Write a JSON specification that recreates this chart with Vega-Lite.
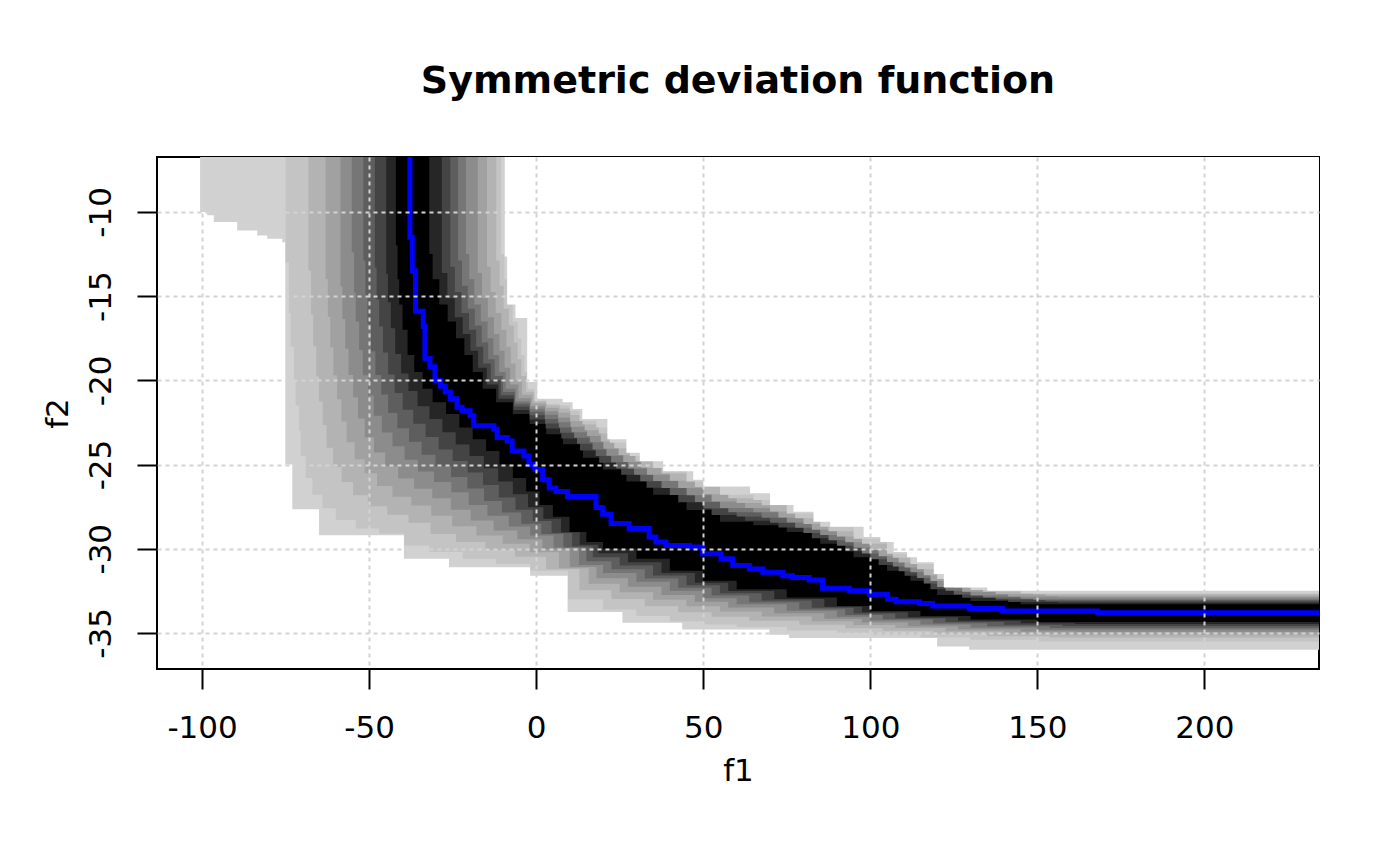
{
  "$schema": "https://vega.github.io/schema/vega-lite/v6.json",
  "width": 1162,
  "height": 512,
  "autosize": "none",
  "padding": {"left": 157, "top": 157, "right": 81, "bottom": 197},
  "background": "white",
  "title": {
    "text": "Symmetric deviation function",
    "font": "DejaVu Sans",
    "fontSize": 38,
    "fontWeight": "bold",
    "color": "black",
    "anchor": "middle",
    "frame": "group",
    "baseline": "alphabetic",
    "offset": 26
  },
  "config": {
    "view": {"stroke": "black", "strokeWidth": 2},
    "axis": {
      "zindex": 1,
      "domain": false,
      "tickSize": 20,
      "tickWidth": 2,
      "tickColor": "black",
      "grid": true,
      "gridColor": "#d3d3d3",
      "gridDash": [4, 4],
      "gridWidth": 2,
      "labelFont": "DejaVu Sans",
      "labelFontSize": 31,
      "labelColor": "black",
      "labelOverlap": false,
      "labelFlush": false,
      "titleFont": "DejaVu Sans",
      "titleFontSize": 31,
      "titleFontWeight": "normal",
      "titleColor": "black"
    }
  },
  "datasets": {
    "lower": [
      {"level": 1, "x": -100.6, "y": -10.0}, {"level": 1, "x": -98.5, "y": -10.2}, {"level": 1, "x": -96.5, "y": -10.6},
      {"level": 1, "x": -89.5, "y": -11.1}, {"level": 1, "x": -83.5, "y": -11.4}, {"level": 1, "x": -80.5, "y": -11.6},
      {"level": 1, "x": -76.0, "y": -11.8}, {"level": 1, "x": -75.1, "y": -25.0}, {"level": 1, "x": -73.0, "y": -27.65},
      {"level": 1, "x": -65.0, "y": -29.2}, {"level": 1, "x": -39.6, "y": -30.6}, {"level": 1, "x": -26.1, "y": -31.1},
      {"level": 1, "x": -1.8, "y": -31.6}, {"level": 1, "x": 9.4, "y": -33.75}, {"level": 1, "x": 25.8, "y": -34.4},
      {"level": 1, "x": 43.7, "y": -34.8}, {"level": 1, "x": 69.8, "y": -35.1}, {"level": 1, "x": 75.7, "y": -35.3},
      {"level": 1, "x": 120.0, "y": -35.8}, {"level": 1, "x": 129.6, "y": -36.0}, {"level": 1, "x": 234.3, "y": -36.0},

      {"level": 2, "x": -75.0, "y": -13.0}, {"level": 2, "x": -74.0, "y": -16.0}, {"level": 2, "x": -73.5, "y": -18.0},
      {"level": 2, "x": -72.5, "y": -20.0}, {"level": 2, "x": -72.0, "y": -21.5}, {"level": 2, "x": -71.0, "y": -23.0},
      {"level": 2, "x": -70.5, "y": -24.5}, {"level": 2, "x": -69.0, "y": -25.8}, {"level": 2, "x": -67.0, "y": -26.8},
      {"level": 2, "x": -64.0, "y": -27.6}, {"level": 2, "x": -60.0, "y": -28.3}, {"level": 2, "x": -54.0, "y": -28.8},
      {"level": 2, "x": -47.0, "y": -29.1}, {"level": 2, "x": -39.5, "y": -29.8}, {"level": 2, "x": -32.0, "y": -30.2},
      {"level": 2, "x": -22.0, "y": -30.6}, {"level": 2, "x": -12.0, "y": -30.9}, {"level": 2, "x": -1.8, "y": -31.3},
      {"level": 2, "x": 9.5, "y": -33.0}, {"level": 2, "x": 20.0, "y": -33.6}, {"level": 2, "x": 30.0, "y": -34.0},
      {"level": 2, "x": 40.0, "y": -34.3}, {"level": 2, "x": 50.0, "y": -34.5}, {"level": 2, "x": 60.0, "y": -34.65},
      {"level": 2, "x": 75.0, "y": -34.85}, {"level": 2, "x": 90.0, "y": -35.0}, {"level": 2, "x": 100.0, "y": -35.1},
      {"level": 2, "x": 115.0, "y": -35.25}, {"level": 2, "x": 130.0, "y": -35.4}, {"level": 2, "x": 150.0, "y": -35.5},
      {"level": 2, "x": 234.3, "y": -35.5},

      {"level": 3, "x": -68.18, "y": -13.5}, {"level": 3, "x": -67.38, "y": -16.08}, {"level": 3, "x": -66.75, "y": -17.98},
      {"level": 3, "x": -65.83, "y": -19.78}, {"level": 3, "x": -65.0, "y": -21.25}, {"level": 3, "x": -63.88, "y": -22.65},
      {"level": 3, "x": -62.75, "y": -24.0}, {"level": 3, "x": -60.8, "y": -25.14}, {"level": 3, "x": -58.2, "y": -26.04},
      {"level": 3, "x": -54.8, "y": -26.82}, {"level": 3, "x": -50.4, "y": -27.48}, {"level": 3, "x": -44.6, "y": -27.98},
      {"level": 3, "x": -38.2, "y": -28.46}, {"level": 3, "x": -31.6, "y": -29.12}, {"level": 3, "x": -24.0, "y": -29.6},
      {"level": 3, "x": -15.2, "y": -30.06}, {"level": 3, "x": -6.35, "y": -30.47}, {"level": 3, "x": 2.95, "y": -31.21},
      {"level": 3, "x": 12.95, "y": -32.46}, {"level": 3, "x": 22.5, "y": -32.99}, {"level": 3, "x": 32.5, "y": -33.42},
      {"level": 3, "x": 42.5, "y": -33.77}, {"level": 3, "x": 52.5, "y": -34.04}, {"level": 3, "x": 63.75, "y": -34.27},
      {"level": 3, "x": 78.75, "y": -34.52}, {"level": 3, "x": 92.5, "y": -34.72}, {"level": 3, "x": 103.75, "y": -34.87},
      {"level": 3, "x": 118.75, "y": -35.04}, {"level": 3, "x": 135.0, "y": -35.19}, {"level": 3, "x": 153.75, "y": -35.27},
      {"level": 3, "x": 234.3, "y": -35.27},

      {"level": 4, "x": -63.04, "y": -13.98}, {"level": 4, "x": -62.38, "y": -16.22}, {"level": 4, "x": -61.63, "y": -18.04},
      {"level": 4, "x": -60.71, "y": -19.7}, {"level": 4, "x": -59.61, "y": -21.12}, {"level": 4, "x": -58.33, "y": -22.44},
      {"level": 4, "x": -56.72, "y": -23.67}, {"level": 4, "x": -54.35, "y": -24.68}, {"level": 4, "x": -51.33, "y": -25.52},
      {"level": 4, "x": -47.65, "y": -26.27}, {"level": 4, "x": -43.0, "y": -26.91}, {"level": 4, "x": -37.38, "y": -27.43},
      {"level": 4, "x": -31.43, "y": -28.04}, {"level": 4, "x": -25.15, "y": -28.67}, {"level": 4, "x": -17.9, "y": -29.21},
      {"level": 4, "x": -10.0, "y": -29.7}, {"level": 4, "x": -1.93, "y": -30.21}, {"level": 4, "x": 6.82, "y": -31.16},
      {"level": 4, "x": 15.72, "y": -32.08}, {"level": 4, "x": 25.0, "y": -32.58}, {"level": 4, "x": 35.0, "y": -33.03},
      {"level": 4, "x": 45.0, "y": -33.42}, {"level": 4, "x": 55.0, "y": -33.73}, {"level": 4, "x": 67.5, "y": -34.02},
      {"level": 4, "x": 82.5, "y": -34.31}, {"level": 4, "x": 95.0, "y": -34.53}, {"level": 4, "x": 107.5, "y": -34.71},
      {"level": 4, "x": 122.5, "y": -34.9}, {"level": 4, "x": 140.0, "y": -35.04}, {"level": 4, "x": 157.5, "y": -35.1},
      {"level": 4, "x": 234.3, "y": -35.1},

      {"level": 5, "x": -58.59, "y": -14.41}, {"level": 5, "x": -58.03, "y": -16.36}, {"level": 5, "x": -57.15, "y": -18.12},
      {"level": 5, "x": -56.17, "y": -19.69}, {"level": 5, "x": -54.81, "y": -21.01}, {"level": 5, "x": -53.35, "y": -22.27},
      {"level": 5, "x": -51.32, "y": -23.38}, {"level": 5, "x": -48.54, "y": -24.29}, {"level": 5, "x": -45.19, "y": -25.1},
      {"level": 5, "x": -41.32, "y": -25.83}, {"level": 5, "x": -36.54, "y": -26.44}, {"level": 5, "x": -31.11, "y": -27.0},
      {"level": 5, "x": -25.55, "y": -27.69}, {"level": 5, "x": -19.6, "y": -28.32}, {"level": 5, "x": -12.74, "y": -28.91},
      {"level": 5, "x": -5.62, "y": -29.44}, {"level": 5, "x": 1.86, "y": -30.04}, {"level": 5, "x": 10.05, "y": -31.08},
      {"level": 5, "x": 18.04, "y": -31.75}, {"level": 5, "x": 27.5, "y": -32.25}, {"level": 5, "x": 37.5, "y": -32.74},
      {"level": 5, "x": 47.5, "y": -33.15}, {"level": 5, "x": 57.5, "y": -33.49}, {"level": 5, "x": 71.25, "y": -33.83},
      {"level": 5, "x": 86.25, "y": -34.15}, {"level": 5, "x": 97.5, "y": -34.38}, {"level": 5, "x": 111.25, "y": -34.6},
      {"level": 5, "x": 126.25, "y": -34.78}, {"level": 5, "x": 145.0, "y": -34.92}, {"level": 5, "x": 161.25, "y": -34.95},
      {"level": 5, "x": 234.3, "y": -34.95},

      {"level": 6, "x": -55.2, "y": -12.4}, {"level": 6, "x": -54.5, "y": -14.8}, {"level": 6, "x": -54.0, "y": -16.5},
      {"level": 6, "x": -53.0, "y": -18.2}, {"level": 6, "x": -51.9, "y": -19.7}, {"level": 6, "x": -50.3, "y": -20.9},
      {"level": 6, "x": -48.6, "y": -22.1}, {"level": 6, "x": -46.2, "y": -23.1}, {"level": 6, "x": -43.0, "y": -23.92},
      {"level": 6, "x": -39.4, "y": -24.72}, {"level": 6, "x": -35.4, "y": -25.42}, {"level": 6, "x": -30.6, "y": -26.04},
      {"level": 6, "x": -25.4, "y": -26.64}, {"level": 6, "x": -20.2, "y": -27.4}, {"level": 6, "x": -14.6, "y": -28.04},
      {"level": 6, "x": -8.2, "y": -28.68}, {"level": 6, "x": -1.8, "y": -29.22}, {"level": 6, "x": 5.2, "y": -29.92},
      {"level": 6, "x": 12.8, "y": -30.96}, {"level": 6, "x": 20.0, "y": -31.44}, {"level": 6, "x": 30.0, "y": -31.96},
      {"level": 6, "x": 40.0, "y": -32.5}, {"level": 6, "x": 50.0, "y": -32.94}, {"level": 6, "x": 60.0, "y": -33.3},
      {"level": 6, "x": 75.0, "y": -33.68}, {"level": 6, "x": 90.0, "y": -34.04}, {"level": 6, "x": 100.0, "y": -34.26},
      {"level": 6, "x": 115.0, "y": -34.5}, {"level": 6, "x": 130.0, "y": -34.68}, {"level": 6, "x": 150.0, "y": -34.81},
      {"level": 6, "x": 234.3, "y": -34.81},

      {"level": 7, "x": -51.74, "y": -12.88}, {"level": 7, "x": -51.13, "y": -15.01}, {"level": 7, "x": -50.5, "y": -16.66},
      {"level": 7, "x": -49.45, "y": -18.28}, {"level": 7, "x": -48.13, "y": -19.69}, {"level": 7, "x": -46.38, "y": -20.84},
      {"level": 7, "x": -44.31, "y": -21.94}, {"level": 7, "x": -41.55, "y": -22.85}, {"level": 7, "x": -38.08, "y": -23.64},
      {"level": 7, "x": -34.3, "y": -24.42}, {"level": 7, "x": -30.15, "y": -25.1}, {"level": 7, "x": -25.48, "y": -25.74},
      {"level": 7, "x": -20.58, "y": -26.42}, {"level": 7, "x": -15.6, "y": -27.17}, {"level": 7, "x": -10.25, "y": -27.85},
      {"level": 7, "x": -4.45, "y": -28.51}, {"level": 7, "x": 1.53, "y": -29.13}, {"level": 7, "x": 8.14, "y": -29.92},
      {"level": 7, "x": 15.01, "y": -30.74}, {"level": 7, "x": 22.5, "y": -31.22}, {"level": 7, "x": 32.5, "y": -31.77},
      {"level": 7, "x": 42.5, "y": -32.32}, {"level": 7, "x": 52.5, "y": -32.78}, {"level": 7, "x": 63.75, "y": -33.18},
      {"level": 7, "x": 78.75, "y": -33.59}, {"level": 7, "x": 92.5, "y": -33.94}, {"level": 7, "x": 103.75, "y": -34.19},
      {"level": 7, "x": 118.75, "y": -34.43}, {"level": 7, "x": 135.0, "y": -34.6}, {"level": 7, "x": 153.75, "y": -34.7},
      {"level": 7, "x": 234.3, "y": -34.7},

      {"level": 8, "x": -48.3, "y": -13.3}, {"level": 8, "x": -47.75, "y": -15.2}, {"level": 8, "x": -47.0, "y": -16.8},
      {"level": 8, "x": -45.85, "y": -18.35}, {"level": 8, "x": -44.3, "y": -19.65}, {"level": 8, "x": -42.35, "y": -20.75},
      {"level": 8, "x": -39.95, "y": -21.75}, {"level": 8, "x": -36.8, "y": -22.58}, {"level": 8, "x": -33.1, "y": -23.36},
      {"level": 8, "x": -29.2, "y": -24.11}, {"level": 8, "x": -25.0, "y": -24.79}, {"level": 8, "x": -20.5, "y": -25.47},
      {"level": 8, "x": -15.9, "y": -26.21}, {"level": 8, "x": -11.2, "y": -26.96}, {"level": 8, "x": -6.2, "y": -27.68},
      {"level": 8, "x": -1.0, "y": -28.35}, {"level": 8, "x": 4.6, "y": -29.06}, {"level": 8, "x": 10.75, "y": -29.87},
      {"level": 8, "x": 16.95, "y": -30.5}, {"level": 8, "x": 25.0, "y": -31.0}, {"level": 8, "x": 35.0, "y": -31.59},
      {"level": 8, "x": 45.0, "y": -32.16}, {"level": 8, "x": 55.0, "y": -32.64}, {"level": 8, "x": 67.5, "y": -33.07},
      {"level": 8, "x": 82.5, "y": -33.51}, {"level": 8, "x": 95.0, "y": -33.85}, {"level": 8, "x": 107.5, "y": -34.12},
      {"level": 8, "x": 122.5, "y": -34.35}, {"level": 8, "x": 140.0, "y": -34.51}, {"level": 8, "x": 157.5, "y": -34.58},
      {"level": 8, "x": 234.3, "y": -34.58},

      {"level": 9, "x": -44.89, "y": -13.68}, {"level": 9, "x": -44.38, "y": -15.36}, {"level": 9, "x": -43.5, "y": -16.91},
      {"level": 9, "x": -42.2, "y": -18.43}, {"level": 9, "x": -40.43, "y": -19.59}, {"level": 9, "x": -38.23, "y": -20.64},
      {"level": 9, "x": -35.51, "y": -21.54}, {"level": 9, "x": -31.95, "y": -22.3}, {"level": 9, "x": -28.08, "y": -23.08},
      {"level": 9, "x": -24.1, "y": -23.81}, {"level": 9, "x": -19.95, "y": -24.49}, {"level": 9, "x": -15.68, "y": -25.22},
      {"level": 9, "x": -11.38, "y": -26.0}, {"level": 9, "x": -7.0, "y": -26.77}, {"level": 9, "x": -2.45, "y": -27.53},
      {"level": 9, "x": 2.15, "y": -28.22}, {"level": 9, "x": 7.43, "y": -29.02}, {"level": 9, "x": 13.04, "y": -29.76},
      {"level": 9, "x": 18.61, "y": -30.26}, {"level": 9, "x": 27.5, "y": -30.8}, {"level": 9, "x": 37.5, "y": -31.44},
      {"level": 9, "x": 47.5, "y": -32.02}, {"level": 9, "x": 57.5, "y": -32.51}, {"level": 9, "x": 71.25, "y": -32.98},
      {"level": 9, "x": 86.25, "y": -33.45}, {"level": 9, "x": 97.5, "y": -33.77}, {"level": 9, "x": 111.25, "y": -34.06},
      {"level": 9, "x": 126.25, "y": -34.27}, {"level": 9, "x": 145.0, "y": -34.43}, {"level": 9, "x": 161.25, "y": -34.47},
      {"level": 9, "x": 234.3, "y": -34.47},

      {"level": 10, "x": -42.0, "y": -12.0}, {"level": 10, "x": -41.5, "y": -14.0}, {"level": 10, "x": -41.0, "y": -15.5},
      {"level": 10, "x": -40.0, "y": -17.0}, {"level": 10, "x": -38.5, "y": -18.5}, {"level": 10, "x": -36.5, "y": -19.5},
      {"level": 10, "x": -34.0, "y": -20.5}, {"level": 10, "x": -31.0, "y": -21.3}, {"level": 10, "x": -27.0, "y": -22.0},
      {"level": 10, "x": -23.0, "y": -22.8}, {"level": 10, "x": -19.0, "y": -23.5}, {"level": 10, "x": -15.0, "y": -24.2},
      {"level": 10, "x": -11.0, "y": -25.0}, {"level": 10, "x": -7.0, "y": -25.8}, {"level": 10, "x": -3.0, "y": -26.6},
      {"level": 10, "x": 1.0, "y": -27.4}, {"level": 10, "x": 5.0, "y": -28.1}, {"level": 10, "x": 10.0, "y": -29.0},
      {"level": 10, "x": 15.0, "y": -29.6}, {"level": 10, "x": 20.0, "y": -30.0}, {"level": 10, "x": 30.0, "y": -30.6},
      {"level": 10, "x": 40.0, "y": -31.3}, {"level": 10, "x": 50.0, "y": -31.9}, {"level": 10, "x": 60.0, "y": -32.4},
      {"level": 10, "x": 75.0, "y": -32.9}, {"level": 10, "x": 90.0, "y": -33.4}, {"level": 10, "x": 100.0, "y": -33.7},
      {"level": 10, "x": 115.0, "y": -34.0}, {"level": 10, "x": 130.0, "y": -34.2}, {"level": 10, "x": 150.0, "y": -34.35},
      {"level": 10, "x": 234.3, "y": -34.35}
    ],
    "upper": [
      {"level": 10, "x": -32.0, "y": -12.5}, {"level": 10, "x": -31.0, "y": -14.0}, {"level": 10, "x": -29.0, "y": -15.5},
      {"level": 10, "x": -26.5, "y": -16.5}, {"level": 10, "x": -24.0, "y": -17.5}, {"level": 10, "x": -21.5, "y": -18.5},
      {"level": 10, "x": -19.0, "y": -19.5}, {"level": 10, "x": -16.0, "y": -20.5}, {"level": 10, "x": -12.0, "y": -21.3},
      {"level": 10, "x": -7.0, "y": -22.0}, {"level": 10, "x": -2.0, "y": -22.6}, {"level": 10, "x": 3.0, "y": -23.2},
      {"level": 10, "x": 8.0, "y": -23.8}, {"level": 10, "x": 14.0, "y": -24.6}, {"level": 10, "x": 20.0, "y": -25.3},
      {"level": 10, "x": 27.0, "y": -26.0}, {"level": 10, "x": 35.0, "y": -26.8}, {"level": 10, "x": 45.0, "y": -27.7},
      {"level": 10, "x": 55.0, "y": -28.4}, {"level": 10, "x": 65.0, "y": -28.6}, {"level": 10, "x": 75.0, "y": -29.0},
      {"level": 10, "x": 85.0, "y": -29.7}, {"level": 10, "x": 95.0, "y": -30.5}, {"level": 10, "x": 105.0, "y": -31.3},
      {"level": 10, "x": 112.0, "y": -31.9}, {"level": 10, "x": 120.0, "y": -32.75}, {"level": 10, "x": 130.0, "y": -33.1},
      {"level": 10, "x": 145.0, "y": -33.3}, {"level": 10, "x": 234.3, "y": -33.3},

      {"level": 9, "x": -28.24, "y": -13.63}, {"level": 9, "x": -26.59, "y": -15.13}, {"level": 9, "x": -24.36, "y": -16.25},
      {"level": 9, "x": -22.0, "y": -17.25}, {"level": 9, "x": -19.69, "y": -18.25}, {"level": 9, "x": -17.4, "y": -19.25},
      {"level": 9, "x": -14.79, "y": -20.25}, {"level": 9, "x": -11.32, "y": -21.09}, {"level": 9, "x": -6.8, "y": -21.76},
      {"level": 9, "x": -1.96, "y": -22.32}, {"level": 9, "x": 2.8, "y": -22.86}, {"level": 9, "x": 7.52, "y": -23.45},
      {"level": 9, "x": 13.1, "y": -24.16}, {"level": 9, "x": 18.85, "y": -24.9}, {"level": 9, "x": 25.43, "y": -25.61},
      {"level": 9, "x": 33.04, "y": -26.38}, {"level": 9, "x": 42.5, "y": -27.24}, {"level": 9, "x": 52.5, "y": -28.0},
      {"level": 9, "x": 62.5, "y": -28.34}, {"level": 9, "x": 72.5, "y": -28.74}, {"level": 9, "x": 82.5, "y": -29.38},
      {"level": 9, "x": 92.5, "y": -30.15}, {"level": 9, "x": 102.5, "y": -30.96}, {"level": 9, "x": 110.25, "y": -31.61},
      {"level": 9, "x": 118.0, "y": -32.41}, {"level": 9, "x": 127.5, "y": -32.91}, {"level": 9, "x": 141.25, "y": -33.16},
      {"level": 9, "x": 156.25, "y": -33.21}, {"level": 9, "x": 234.3, "y": -33.21},

      {"level": 8, "x": -25.7, "y": -13.25}, {"level": 8, "x": -24.34, "y": -14.75}, {"level": 8, "x": -22.36, "y": -16.0},
      {"level": 8, "x": -20.12, "y": -17.0}, {"level": 8, "x": -17.96, "y": -18.0}, {"level": 8, "x": -15.87, "y": -19.0},
      {"level": 8, "x": -13.59, "y": -20.0}, {"level": 8, "x": -10.63, "y": -20.89}, {"level": 8, "x": -6.6, "y": -21.56},
      {"level": 8, "x": -1.94, "y": -22.07}, {"level": 8, "x": 2.66, "y": -22.56}, {"level": 8, "x": 7.12, "y": -23.12},
      {"level": 8, "x": 12.22, "y": -23.77}, {"level": 8, "x": 17.81, "y": -24.49}, {"level": 8, "x": 23.91, "y": -25.24},
      {"level": 8, "x": 31.14, "y": -25.99}, {"level": 8, "x": 40.0, "y": -26.81}, {"level": 8, "x": 50.0, "y": -27.61},
      {"level": 8, "x": 60.0, "y": -28.09}, {"level": 8, "x": 70.0, "y": -28.45}, {"level": 8, "x": 80.0, "y": -29.07},
      {"level": 8, "x": 90.0, "y": -29.82}, {"level": 8, "x": 100.0, "y": -30.62}, {"level": 8, "x": 108.5, "y": -31.33},
      {"level": 8, "x": 116.0, "y": -32.06}, {"level": 8, "x": 125.0, "y": -32.71}, {"level": 8, "x": 137.5, "y": -33.02},
      {"level": 8, "x": 152.5, "y": -33.12}, {"level": 8, "x": 234.3, "y": -33.12},

      {"level": 7, "x": -23.37, "y": -12.88}, {"level": 7, "x": -22.22, "y": -14.38}, {"level": 7, "x": -20.48, "y": -15.75},
      {"level": 7, "x": -18.37, "y": -16.75}, {"level": 7, "x": -16.31, "y": -17.75}, {"level": 7, "x": -14.39, "y": -18.75},
      {"level": 7, "x": -12.41, "y": -19.75}, {"level": 7, "x": -9.94, "y": -20.69}, {"level": 7, "x": -6.42, "y": -21.39},
      {"level": 7, "x": -1.95, "y": -21.87}, {"level": 7, "x": 2.57, "y": -22.29}, {"level": 7, "x": 6.79, "y": -22.8},
      {"level": 7, "x": 11.35, "y": -23.41}, {"level": 7, "x": 16.87, "y": -24.1}, {"level": 7, "x": 22.43, "y": -24.87},
      {"level": 7, "x": 29.29, "y": -25.61}, {"level": 7, "x": 37.5, "y": -26.4}, {"level": 7, "x": 47.5, "y": -27.23},
      {"level": 7, "x": 57.5, "y": -27.84}, {"level": 7, "x": 67.5, "y": -28.16}, {"level": 7, "x": 77.5, "y": -28.76},
      {"level": 7, "x": 87.5, "y": -29.5}, {"level": 7, "x": 97.5, "y": -30.28}, {"level": 7, "x": 106.75, "y": -31.06},
      {"level": 7, "x": 114.0, "y": -31.73}, {"level": 7, "x": 122.5, "y": -32.5}, {"level": 7, "x": 133.75, "y": -32.9},
      {"level": 7, "x": 148.75, "y": -33.05}, {"level": 7, "x": 234.3, "y": -33.05},

      {"level": 6, "x": -21.04, "y": -12.5}, {"level": 6, "x": -20.04, "y": -14.0}, {"level": 6, "x": -18.55, "y": -15.5},
      {"level": 6, "x": -16.56, "y": -16.5}, {"level": 6, "x": -14.57, "y": -17.5}, {"level": 6, "x": -12.83, "y": -18.5},
      {"level": 6, "x": -11.1, "y": -19.5}, {"level": 6, "x": -9.12, "y": -20.5}, {"level": 6, "x": -6.14, "y": -21.25},
      {"level": 6, "x": -1.9, "y": -21.69}, {"level": 6, "x": 2.59, "y": -22.04}, {"level": 6, "x": 6.57, "y": -22.49},
      {"level": 6, "x": 10.55, "y": -23.09}, {"level": 6, "x": 16.04, "y": -23.68}, {"level": 6, "x": 21.02, "y": -24.48},
      {"level": 6, "x": 27.51, "y": -25.24}, {"level": 6, "x": 35.0, "y": -25.98}, {"level": 6, "x": 45.0, "y": -26.83},
      {"level": 6, "x": 55.0, "y": -27.58}, {"level": 6, "x": 65.0, "y": -27.84}, {"level": 6, "x": 75.0, "y": -28.44},
      {"level": 6, "x": 85.0, "y": -29.19}, {"level": 6, "x": 95.0, "y": -29.94}, {"level": 6, "x": 105.0, "y": -30.79},
      {"level": 6, "x": 112.0, "y": -31.39}, {"level": 6, "x": 120.0, "y": -32.27}, {"level": 6, "x": 130.0, "y": -32.77},
      {"level": 6, "x": 145.0, "y": -32.97}, {"level": 6, "x": 234.3, "y": -32.97},

      {"level": 5, "x": -17.49, "y": -13.63}, {"level": 5, "x": -16.22, "y": -15.13}, {"level": 5, "x": -14.49, "y": -16.25},
      {"level": 5, "x": -12.63, "y": -17.25}, {"level": 5, "x": -11.0, "y": -18.25}, {"level": 5, "x": -9.47, "y": -19.25},
      {"level": 5, "x": -7.79, "y": -20.25}, {"level": 5, "x": -5.32, "y": -21.06}, {"level": 5, "x": -1.61, "y": -21.53},
      {"level": 5, "x": 2.67, "y": -21.83}, {"level": 5, "x": 6.55, "y": -22.2}, {"level": 5, "x": 10.27, "y": -22.75},
      {"level": 5, "x": 15.22, "y": -23.31}, {"level": 5, "x": 20.1, "y": -24.07}, {"level": 5, "x": 26.05, "y": -24.85},
      {"level": 5, "x": 33.16, "y": -25.6}, {"level": 5, "x": 42.5, "y": -26.4}, {"level": 5, "x": 52.5, "y": -27.19},
      {"level": 5, "x": 62.5, "y": -27.58}, {"level": 5, "x": 72.5, "y": -28.14}, {"level": 5, "x": 82.5, "y": -28.87},
      {"level": 5, "x": 92.5, "y": -29.62}, {"level": 5, "x": 102.5, "y": -30.45}, {"level": 5, "x": 110.25, "y": -31.11},
      {"level": 5, "x": 118.0, "y": -31.92}, {"level": 5, "x": 127.5, "y": -32.55}, {"level": 5, "x": 141.25, "y": -32.83},
      {"level": 5, "x": 156.25, "y": -32.88}, {"level": 5, "x": 234.3, "y": -32.88},

      {"level": 4, "x": -14.73, "y": -13.25}, {"level": 4, "x": -13.62, "y": -14.75}, {"level": 4, "x": -12.15, "y": -16.0},
      {"level": 4, "x": -10.43, "y": -17.0}, {"level": 4, "x": -8.91, "y": -18.0}, {"level": 4, "x": -7.58, "y": -19.0},
      {"level": 4, "x": -6.19, "y": -20.0}, {"level": 4, "x": -4.25, "y": -20.85}, {"level": 4, "x": -1.12, "y": -21.37},
      {"level": 4, "x": 2.91, "y": -21.64}, {"level": 4, "x": 6.74, "y": -21.93}, {"level": 4, "x": 10.18, "y": -22.41},
      {"level": 4, "x": 14.51, "y": -22.96}, {"level": 4, "x": 19.34, "y": -23.63}, {"level": 4, "x": 24.67, "y": -24.44},
      {"level": 4, "x": 31.39, "y": -25.19}, {"level": 4, "x": 40.0, "y": -25.96}, {"level": 4, "x": 50.0, "y": -26.76},
      {"level": 4, "x": 60.0, "y": -27.29}, {"level": 4, "x": 70.0, "y": -27.79}, {"level": 4, "x": 80.0, "y": -28.53},
      {"level": 4, "x": 90.0, "y": -29.28}, {"level": 4, "x": 100.0, "y": -30.08}, {"level": 4, "x": 108.5, "y": -30.82},
      {"level": 4, "x": 116.0, "y": -31.57}, {"level": 4, "x": 125.0, "y": -32.3}, {"level": 4, "x": 137.5, "y": -32.69},
      {"level": 4, "x": 152.5, "y": -32.79}, {"level": 4, "x": 234.3, "y": -32.79},

      {"level": 3, "x": -11.97, "y": -12.88}, {"level": 3, "x": -10.95, "y": -14.38}, {"level": 3, "x": -9.75, "y": -15.75},
      {"level": 3, "x": -8.17, "y": -16.75}, {"level": 3, "x": -6.7, "y": -17.75}, {"level": 3, "x": -5.58, "y": -18.75},
      {"level": 3, "x": -4.45, "y": -19.75}, {"level": 3, "x": -3.04, "y": -20.68}, {"level": 3, "x": -0.52, "y": -21.26},
      {"level": 3, "x": 3.22, "y": -21.49}, {"level": 3, "x": 7.07, "y": -21.67}, {"level": 3, "x": 10.23, "y": -22.06},
      {"level": 3, "x": 13.87, "y": -22.62}, {"level": 3, "x": 18.72, "y": -23.16}, {"level": 3, "x": 23.36, "y": -24.03},
      {"level": 3, "x": 29.69, "y": -24.8}, {"level": 3, "x": 37.5, "y": -25.53}, {"level": 3, "x": 47.5, "y": -26.34},
      {"level": 3, "x": 57.5, "y": -27.0}, {"level": 3, "x": 67.5, "y": -27.41}, {"level": 3, "x": 77.5, "y": -28.19},
      {"level": 3, "x": 87.5, "y": -28.96}, {"level": 3, "x": 97.5, "y": -29.71}, {"level": 3, "x": 106.75, "y": -30.53},
      {"level": 3, "x": 114.0, "y": -31.21}, {"level": 3, "x": 122.5, "y": -32.04}, {"level": 3, "x": 133.75, "y": -32.55},
      {"level": 3, "x": 148.75, "y": -32.7}, {"level": 3, "x": 234.3, "y": -32.7},

      {"level": 2, "x": -10.5, "y": -12.5}, {"level": 2, "x": -9.5, "y": -14.0}, {"level": 2, "x": -8.5, "y": -15.5},
      {"level": 2, "x": -7.0, "y": -16.5}, {"level": 2, "x": -5.5, "y": -17.5}, {"level": 2, "x": -4.5, "y": -18.5},
      {"level": 2, "x": -3.5, "y": -19.5}, {"level": 2, "x": -2.5, "y": -20.5}, {"level": 2, "x": -0.5, "y": -21.2},
      {"level": 2, "x": 3.0, "y": -21.4}, {"level": 2, "x": 7.0, "y": -21.5}, {"level": 2, "x": 10.0, "y": -21.8},
      {"level": 2, "x": 13.0, "y": -22.4}, {"level": 2, "x": 18.0, "y": -22.8}, {"level": 2, "x": 22.0, "y": -23.7},
      {"level": 2, "x": 28.0, "y": -24.5}, {"level": 2, "x": 35.0, "y": -25.2}, {"level": 2, "x": 45.0, "y": -26.0},
      {"level": 2, "x": 55.0, "y": -26.8}, {"level": 2, "x": 65.0, "y": -27.1}, {"level": 2, "x": 75.0, "y": -27.9},
      {"level": 2, "x": 85.0, "y": -28.7}, {"level": 2, "x": 95.0, "y": -29.4}, {"level": 2, "x": 105.0, "y": -30.3},
      {"level": 2, "x": 112.0, "y": -30.9}, {"level": 2, "x": 120.0, "y": -31.8}, {"level": 2, "x": 130.0, "y": -32.45},
      {"level": 2, "x": 145.0, "y": -32.65}, {"level": 2, "x": 234.3, "y": -32.65},

      {"level": 1, "x": -9.4, "y": -12.65}, {"level": 1, "x": -8.7, "y": -15.5}, {"level": 1, "x": -6.2, "y": -16.3},
      {"level": 1, "x": -2.7, "y": -20.1}, {"level": 1, "x": 0.3, "y": -21.1}, {"level": 1, "x": 7.9, "y": -21.3},
      {"level": 1, "x": 10.9, "y": -21.7}, {"level": 1, "x": 13.8, "y": -22.3}, {"level": 1, "x": 21.3, "y": -23.5},
      {"level": 1, "x": 27.0, "y": -24.3}, {"level": 1, "x": 31.0, "y": -24.8}, {"level": 1, "x": 38.0, "y": -25.4},
      {"level": 1, "x": 47.0, "y": -25.9}, {"level": 1, "x": 50.0, "y": -26.3}, {"level": 1, "x": 64.0, "y": -26.7},
      {"level": 1, "x": 70.0, "y": -27.4}, {"level": 1, "x": 77.0, "y": -27.8}, {"level": 1, "x": 83.0, "y": -28.4},
      {"level": 1, "x": 88.0, "y": -28.7}, {"level": 1, "x": 98.0, "y": -29.3}, {"level": 1, "x": 103.0, "y": -29.6},
      {"level": 1, "x": 107.0, "y": -30.2}, {"level": 1, "x": 111.0, "y": -30.5}, {"level": 1, "x": 114.0, "y": -30.8},
      {"level": 1, "x": 119.0, "y": -31.5}, {"level": 1, "x": 122.0, "y": -32.3}, {"level": 1, "x": 135.0, "y": -32.5},
      {"level": 1, "x": 234.3, "y": -32.5}
    ],
    "median": [
      {"x": -37.8, "y": -6.74}, {"x": -37.8, "y": -11.5}, {"x": -37.1, "y": -13.5}, {"x": -36.1, "y": -15.9},
      {"x": -33.8, "y": -16.8}, {"x": -33.3, "y": -18.7}, {"x": -31.8, "y": -19.2}, {"x": -30.3, "y": -20.0},
      {"x": -28.7, "y": -20.35}, {"x": -27.2, "y": -20.7}, {"x": -25.7, "y": -21.1}, {"x": -23.7, "y": -21.6},
      {"x": -22.2, "y": -21.8}, {"x": -19.8, "y": -22.1}, {"x": -18.7, "y": -22.7}, {"x": -12.7, "y": -22.9},
      {"x": -11.7, "y": -23.4}, {"x": -8.7, "y": -23.6}, {"x": -7.2, "y": -24.2}, {"x": -3.7, "y": -24.5},
      {"x": -2.2, "y": -25.0}, {"x": -0.4, "y": -25.3}, {"x": 1.9, "y": -25.9}, {"x": 3.9, "y": -26.4},
      {"x": 5.9, "y": -26.6}, {"x": 9.4, "y": -26.9}, {"x": 17.9, "y": -27.55}, {"x": 19.9, "y": -27.95},
      {"x": 22.4, "y": -28.5}, {"x": 27.8, "y": -28.8}, {"x": 33.8, "y": -29.3}, {"x": 35.8, "y": -29.6},
      {"x": 38.8, "y": -29.8}, {"x": 45.8, "y": -29.9}, {"x": 49.8, "y": -30.3}, {"x": 55.3, "y": -30.6},
      {"x": 58.8, "y": -31.0}, {"x": 63.8, "y": -31.2}, {"x": 67.8, "y": -31.4}, {"x": 73.7, "y": -31.6},
      {"x": 76.7, "y": -31.7}, {"x": 81.7, "y": -31.85}, {"x": 85.7, "y": -32.35}, {"x": 93.7, "y": -32.5},
      {"x": 99.7, "y": -32.7}, {"x": 105.2, "y": -33.0}, {"x": 107.7, "y": -33.15}, {"x": 114.7, "y": -33.25},
      {"x": 118.7, "y": -33.4}, {"x": 129.6, "y": -33.55}, {"x": 139.6, "y": -33.7}, {"x": 168.0, "y": -33.8},
      {"x": 234.3, "y": -33.8}
    ]
  },
  "layer": [
    {
      "data": {"name": "lower"},
      "mark": {"type": "area", "interpolate": "step-after", "clip": true},
      "encoding": {
        "x": {
          "field": "x",
          "type": "quantitative",
          "scale": {"domain": [-113.5, 234.3], "nice": false, "zero": false},
          "axis": {
            "values": [-100, -50, 0, 50, 100, 150, 200],
            "title": "f1",
            "zindex": 1,
            "labelExpr": "'' + datum.value",
            "labelPadding": 24,
            "titlePadding": 13
          }
        },
        "y": {
          "field": "y",
          "type": "quantitative",
          "stack": null,
          "scale": {"domain": [-37.14, -6.74], "nice": false, "zero": false},
          "axis": {
            "values": [-10, -15, -20, -25, -30, -35],
            "title": "f2",
            "zindex": 1,
            "labelExpr": "'' + datum.value",
            "labelAngle": -90,
            "labelAlign": "center",
            "labelBaseline": "bottom",
            "labelPadding": 20,
            "titlePadding": 11
          }
        },
        "y2": {"datum": -6.74},
        "color": {
          "field": "level",
          "type": "ordinal",
          "scale": {
            "domain": [1, 2, 3, 4, 5, 6, 7, 8, 9, 10],
            "range": ["#d1d1d1", "#c4c4c4", "#b3b3b3", "#a1a1a1", "#8c8c8c", "#767676", "#5e5e5e", "#444444", "#262626", "#000000"]
          },
          "legend": null
        }
      }
    },
    {
      "data": {"name": "upper"},
      "mark": {"type": "area", "interpolate": "step-after", "clip": true},
      "encoding": {
        "x": {"field": "x", "type": "quantitative"},
        "y": {"field": "y", "type": "quantitative", "stack": null},
        "y2": {"datum": -6.74},
        "color": {
          "field": "level",
          "type": "ordinal",
          "scale": {
            "domain": [1, 2, 3, 4, 5, 6, 7, 8, 9, 10],
            "range": ["#ffffff", "#d1d1d1", "#c4c4c4", "#b3b3b3", "#a1a1a1", "#8c8c8c", "#767676", "#5e5e5e", "#444444", "#262626"]
          },
          "legend": null
        }
      }
    },
    {
      "data": {"name": "median"},
      "mark": {"type": "line", "interpolate": "step-after", "color": "#0000ff", "strokeWidth": 5, "clip": true},
      "encoding": {
        "x": {"field": "x", "type": "quantitative"},
        "y": {"field": "y", "type": "quantitative"},
        "order": {"value": null}
      }
    }
  ],
  "resolve": {"scale": {"color": "independent"}}
}
